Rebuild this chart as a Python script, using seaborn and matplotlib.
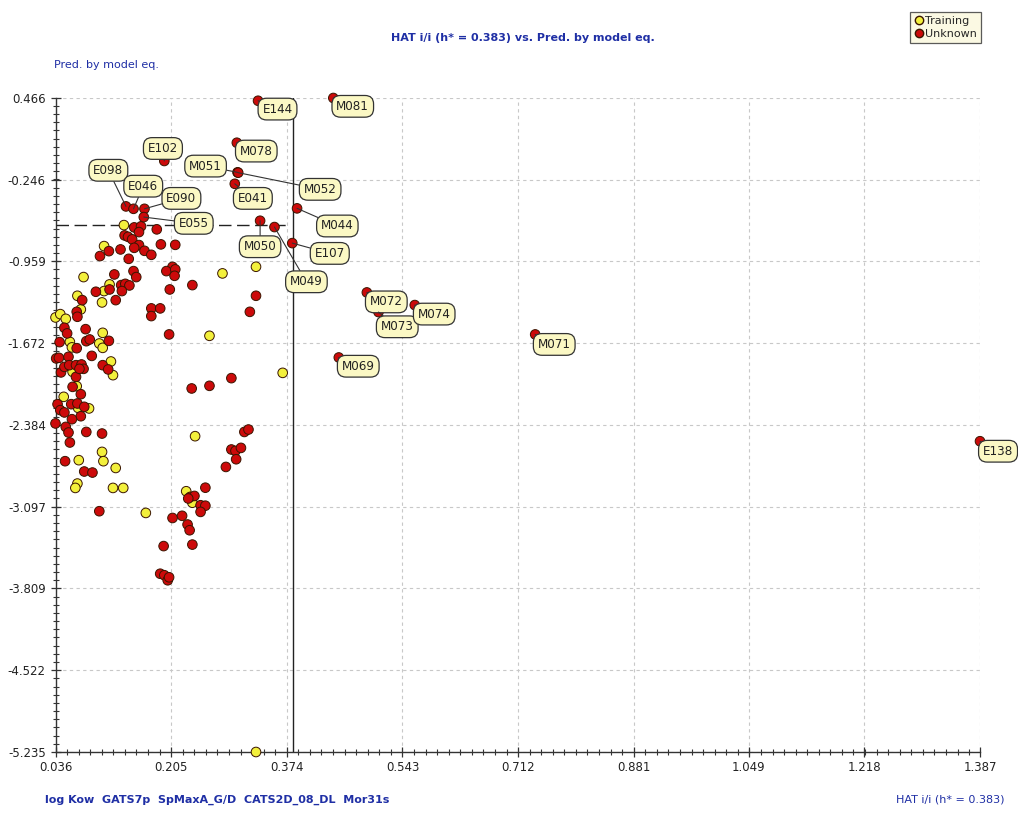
import matplotlib
matplotlib.use("Agg")
import matplotlib.pyplot as plt
from matplotlib.ticker import FixedLocator, AutoMinorLocator
from matplotlib.lines import Line2D
import seaborn as sns
import pandas as pd

# ---------------- data ----------------
train_hat = [0.136, 0.107, 0.077, 0.115, 0.107, 0.068, 0.104, 0.280, 0.329, 0.073,
             0.036, 0.043, 0.051, 0.105, 0.100, 0.105, 0.057, 0.060, 0.261, 0.368,
             0.117, 0.120, 0.061, 0.067, 0.048, 0.069, 0.085, 0.104, 0.106, 0.070,
             0.124, 0.068, 0.065, 0.120, 0.135, 0.240, 0.227, 0.236, 0.168, 0.329]
train_pred = [-0.642, -0.825, -1.095, -1.159, -1.217, -1.258, -1.316, -1.063, -1.005, -1.377,
              -1.447, -1.418, -1.459, -1.581, -1.674, -1.712, -1.660, -1.708, -1.607, -1.930,
              -1.831, -1.950, -1.921, -2.046, -2.139, -2.235, -2.240, -2.619, -2.700, -2.691,
              -2.759, -2.895, -2.933, -2.933, -2.933, -2.482, -2.962, -3.062, -3.151, -5.235]

unk_hat = [0.151, 0.161, 0.184, 0.137, 0.142, 0.148, 0.158, 0.158, 0.151, 0.166,
           0.176, 0.190, 0.211, 0.101, 0.114, 0.131, 0.143, 0.150, 0.154, 0.122,
           0.115, 0.095, 0.132, 0.138, 0.144, 0.133, 0.075, 0.124, 0.207, 0.198,
           0.211, 0.210, 0.236, 0.203, 0.329, 0.320, 0.176, 0.189, 0.176, 0.067,
           0.068, 0.049, 0.053, 0.080, 0.081, 0.086, 0.114, 0.042, 0.067, 0.037,
           0.041, 0.055, 0.089, 0.202, 0.293, 0.235, 0.261, 0.105, 0.113, 0.044,
           0.049, 0.056, 0.066, 0.074, 0.077, 0.066, 0.071, 0.061, 0.073, 0.039,
           0.043, 0.049, 0.059, 0.068, 0.078, 0.073, 0.060, 0.036, 0.051, 0.055,
           0.057, 0.081, 0.104, 0.050, 0.078, 0.090, 0.312, 0.318, 0.293, 0.299,
           0.307, 0.300, 0.285, 0.233, 0.239, 0.230, 0.255, 0.248, 0.255, 0.248,
           0.100, 0.207, 0.221, 0.229, 0.232, 0.194, 0.236, 0.189, 0.195, 0.200,
           0.202]
unk_pred = [-0.662, -0.653, -0.679, -0.732, -0.744, -0.766, -0.703, -0.816, -0.840, -0.866,
            -0.901, -0.810, -0.814, -0.912, -0.869, -0.854, -0.936, -1.043, -1.095, -1.072,
            -1.203, -1.223, -1.165, -1.154, -1.168, -1.217, -1.296, -1.296, -1.006, -1.043,
            -1.028, -1.084, -1.165, -1.203, -1.258, -1.398, -1.368, -1.368, -1.435, -1.398,
            -1.441, -1.537, -1.586, -1.549, -1.654, -1.639, -1.651, -1.662, -1.715, -1.804,
            -1.799, -1.790, -1.782, -1.595, -1.976, -2.066, -2.043, -1.863, -1.900, -1.926,
            -1.878, -1.863, -1.863, -1.857, -1.895, -1.965, -1.895, -2.052, -2.116, -2.203,
            -2.255, -2.275, -2.203, -2.197, -2.226, -2.308, -2.334, -2.371, -2.401, -2.450,
            -2.537, -2.445, -2.459, -2.700, -2.790, -2.799, -2.445, -2.424, -2.598, -2.610,
            -2.584, -2.683, -2.750, -3.011, -3.003, -3.025, -2.931, -3.084, -3.088, -3.142,
            -3.136, -3.195, -3.176, -3.252, -3.302, -3.440, -3.427, -3.681, -3.694, -3.738,
            -3.712]

lab_names = ["E144", "M081", "E102", "M078", "M051", "M052", "E041", "M044", "M050", "M049",
             "E107", "E098", "E046", "E090", "E055", "M072", "M073", "M074", "M071", "M069",
             "E138"]
lab_hat = [0.332, 0.442, 0.195, 0.301, 0.302, 0.303, 0.298, 0.389, 0.335, 0.356,
           0.382, 0.139, 0.150, 0.166, 0.165, 0.491, 0.508, 0.561, 0.737, 0.450,
           1.387]
lab_pred = [0.442, 0.466, -0.083, 0.076, -0.182, -0.185, -0.282, -0.496, -0.604, -0.659,
            -0.799, -0.479, -0.500, -0.500, -0.572, -1.229, -1.400, -1.339, -1.595, -1.796,
            -2.526]

x_ticks = ["0.036", "0.205", "0.374", "0.543", "0.712", "0.881", "1.049", "1.218", "1.387"]
y_ticks = ["0.466", "-0.246", "-0.959", "-1.672", "-2.384", "-3.097", "-3.809", "-4.522", "-5.235"]

h_star = 0.383
pred_ref = -0.642          # dashed horizontal reference line
pred_ref_end = 0.374

# label offsets in points (layout only)
lab_offsets = {
    "E144": (14, -6), "M081": (14, -6), "E102": (-1, 9), "M078": (14, -6),
    "M051": (-23, 4.5), "M052": (59, -12), "E041": (13, -10.5), "M044": (29, -12.7),
    "M050": (0, -18.7), "M049": (23, -39.4), "E107": (27, -7.4), "E098": (-12.7, 26),
    "E046": (7, 16.3), "E090": (26.6, 7.5), "E055": (36, -4.5), "M072": (14, -6.8),
    "M073": (13.5, -10.6), "M074": (14, -6.5), "M071": (13.7, -7.2), "M069": (14, -6.3),
    "E138": (13, -7.2),
}

# ---------------- figure ----------------
sns.set_style("white")
BLUE = "#1f2fa5"
plt.rcParams["font.family"] = ["DejaVu Sans"]

W, H = 1018, 816
fig = plt.figure(figsize=(W / 100, H / 100), dpi=100)
ax = fig.add_axes([55.5 / W, 1 - 752 / H, (980 - 55.5) / W, (752 - 98) / H])

df = pd.concat([
    pd.DataFrame({"hat": train_hat, "pred": train_pred, "set": "Training"}),
    pd.DataFrame({"hat": unk_hat + lab_hat, "pred": unk_pred + lab_pred, "set": "Unknown"}),
], ignore_index=True)

palette = {"Training": "#f3f03c", "Unknown": "#cc0a0a"}
sns.scatterplot(data=df, x="hat", y="pred", hue="set", palette=palette,
                s=48, edgecolor="#3a1500", linewidth=0.7, legend=False,
                ax=ax, zorder=4, clip_on=False)

xt = [float(v) for v in x_ticks]
yt = [float(v) for v in y_ticks]
ax.set_xlim(xt[0], xt[-1])
ax.set_ylim(yt[-1], yt[0])
ax.xaxis.set_major_locator(FixedLocator(xt))
ax.yaxis.set_major_locator(FixedLocator(yt))
ax.set_xticklabels(x_ticks)
ax.set_yticklabels(y_ticks)
ax.xaxis.set_minor_locator(AutoMinorLocator(10))
ax.yaxis.set_minor_locator(AutoMinorLocator(10))
ax.tick_params(which="major", direction="inout", length=7, width=0.9, color="#333333",
               labelsize=8.5, labelcolor="#222222", bottom=True, left=True)
ax.tick_params(which="minor", direction="inout", length=4, width=0.8, color="#333333",
               bottom=True, left=True)
ax.tick_params(axis="x", pad=3)
for s in ["top", "right"]:
    ax.spines[s].set_visible(False)
for s in ["left", "bottom"]:
    ax.spines[s].set_color("#333333")
    ax.spines[s].set_linewidth(1.0)

ax.grid(True, which="major", color="#c8c8c8", linestyle=(0, (3, 3)), linewidth=0.8)
ax.set_axisbelow(True)
ax.set_xlabel("")
ax.set_ylabel("")

# reference lines
ax.axvline(h_star, color="#222222", lw=1.0, zorder=3)
ax.plot([xt[0], pred_ref_end], [pred_ref, pred_ref], color="#222222", lw=1.0,
        linestyle=(0, (9, 4)), zorder=3)

# labels
for name, hx, py in zip(lab_names, lab_hat, lab_pred):
    off = lab_offsets[name]
    ax.annotate(name, xy=(hx, py), xytext=off, textcoords="offset points",
                ha="center", va="center", fontsize=9.5, color="#222222",
                fontstretch="condensed", annotation_clip=False, zorder=6,
                bbox=dict(boxstyle="round,pad=0.33,rounding_size=0.65",
                          fc="#fbf8c4", ec="#333333", lw=0.9),
                arrowprops=dict(arrowstyle="-", color="#333333", lw=0.8,
                                shrinkA=0, shrinkB=0))

# texts
fig.text(391 / W, 1 - 38 / H, "HAT i/i (h* = 0.383) vs. Pred. by model eq.",
         ha="left", va="center", fontsize=8, fontweight="bold", color=BLUE)
fig.text(54 / W, 1 - 65 / H, "Pred. by model eq.", ha="left", va="center",
         fontsize=8, color=BLUE)
fig.text(45 / W, 1 - 800 / H, "log Kow  GATS7p  SpMaxA_G/D  CATS2D_08_DL  Mor31s",
         ha="left", va="center", fontsize=8, fontweight="bold", color=BLUE)
fig.text(1005 / W, 1 - 800 / H, "HAT i/i (h* = 0.383)", ha="right", va="center",
         fontsize=8, color=BLUE)

# legend
handles = [Line2D([], [], marker="o", ls="", mfc=palette["Training"], mec="#3a1500",
                  ms=6, label="Training"),
           Line2D([], [], marker="o", ls="", mfc=palette["Unknown"], mec="#3a1500",
                  ms=6, label="Unknown")]
leg = fig.legend(handles=handles, loc="upper right", bbox_to_anchor=(981 / W, 1 - 12 / H),
                 frameon=True, fancybox=False, handletextpad=0.15,
                 handlelength=0.9, borderpad=0.35, labelspacing=0.3, borderaxespad=0,
                 prop={"size": 8})
leg.get_frame().set_facecolor("#fbf8dc")
leg.get_frame().set_edgecolor("#333333")
leg.get_frame().set_linewidth(0.9)

fig.savefig("out.png", dpi=100, facecolor="white")
